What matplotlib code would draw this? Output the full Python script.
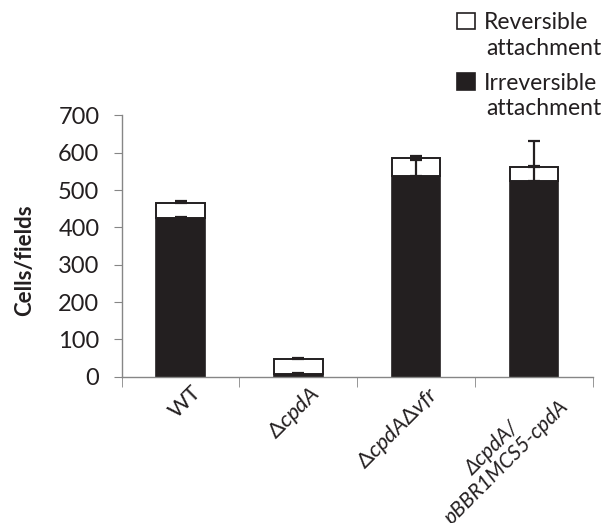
import matplotlib.pyplot as plt
from matplotlib.patches import Rectangle
from matplotlib.transforms import ScaledTranslation

# strains and attachment counts (cells per field)
strains = ['WT', r'$\mathit{\Delta cpdA}$', r'$\mathit{\Delta cpdA\Delta vfr}$',
           'ΔcpdA/\npBBR1MCS5-cpdA']
irreversible = [424, 6, 538, 524]
reversible = [42, 42, 47, 38]
irreversible_err = [5, 3, 42, 40]
total_err = [4, 3, 6, 69]

dark = '#231f20'
axis_grey = '#868686'

plt.rcParams['font.family'] = ['Lato', 'DejaVu Sans']
plt.rcParams['mathtext.fontset'] = 'custom'
plt.rcParams['mathtext.it'] = 'Lato:italic'
plt.rcParams['mathtext.rm'] = 'Lato'

W, H = 602, 523
fig = plt.figure(figsize=(W / 100, H / 100), dpi=100)
ax = fig.add_axes([0.202, 0.2797, 0.783, 0.4998])

x = list(range(len(strains)))
width = 0.41
totals = [a + b for a, b in zip(irreversible, reversible)]

err_style = dict(ecolor=dark, elinewidth=1.6, capsize=4.5, capthick=1.6)
ax.bar(x, irreversible, width, color=dark, edgecolor=dark, linewidth=1.2, zorder=2)
ax.bar(x, reversible, width, bottom=irreversible, color='white', edgecolor=dark,
       linewidth=1.4, zorder=2)
ax.errorbar(x, irreversible, yerr=[[0] * 4, irreversible_err], fmt='none', zorder=3, **err_style)
ax.errorbar(x, totals, yerr=[[0] * 4, total_err], fmt='none', zorder=3, **err_style)

ax.set_xlim(-0.5, 3.5)
ax.set_ylim(0, 700)
ax.set_yticks(range(0, 701, 100))
for side in ['top', 'right']:
    ax.spines[side].set_visible(False)
for side in ['left', 'bottom']:
    ax.spines[side].set_color(axis_grey)
    ax.spines[side].set_linewidth(1.0)

ax.tick_params(axis='y', direction='out', length=6, color=axis_grey,
               labelsize=17, labelcolor=dark, pad=10)
ax.set_xticks(x)
ax.set_xticks([-0.5, 0.5, 1.5, 2.5, 3.5], minor=True)
ax.tick_params(axis='x', which='major', length=0, pad=4)
ax.tick_params(axis='x', which='minor', direction='out', length=7, color=axis_grey)
ax.set_xticklabels(strains, rotation=45, ha='right', va='top',
                   rotation_mode='anchor', fontsize=16, color=dark)
shift = ScaledTranslation(0.1, 0, fig.dpi_scale_trans)
for lbl in ax.get_xticklabels():
    lbl.set_transform(lbl.get_transform() + shift)
for lbl in ax.get_xticklabels()[3:]:
    lbl.set_fontstyle('italic')
    lbl.set_fontsize(15)
    lbl.set_multialignment('center')
    lbl.set_linespacing(1.0)

ax.set_ylabel('Cells/fields', fontsize=16, fontweight='bold', color=dark)
ax.yaxis.set_label_coords(-0.184, 0.446)

# legend: square swatch beside the first line of each two-line entry
entries = [('white', 'Reversible', 29.5), (dark, 'Irreversible', 89.5)]
for face, word, base in entries:
    fig.patches.append(Rectangle((457 / W, 1 - base / H), 18 / W, 16.5 / H,
                                 transform=fig.transFigure, facecolor=face,
                                 edgecolor=dark, linewidth=1.2))
    fig.text(484 / W, 1 - base / H, word, fontsize=16.5, color=dark, va='baseline')
    fig.text(486 / W, 1 - (base + 25.5) / H, 'attachment', fontsize=16.5,
             color=dark, va='baseline')

fig.savefig('out.png', dpi=100)
